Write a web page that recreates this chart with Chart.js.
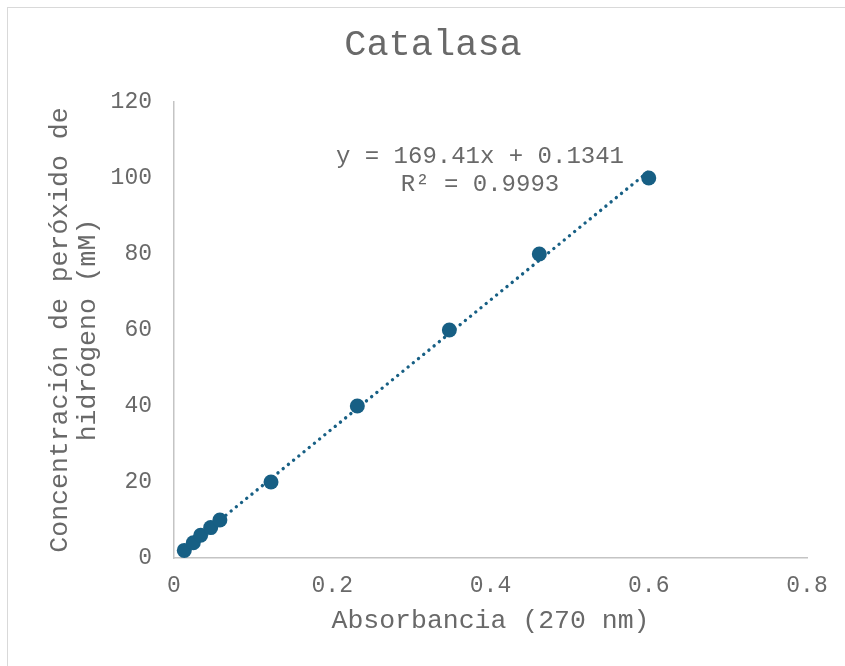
<!DOCTYPE html>
<html>
<head>
<meta charset="utf-8">
<script src="https://cdn.jsdelivr.net/npm/chart.js@4.4.1/dist/chart.umd.min.js"></script>
<style>
    html, body { margin: 0; padding: 0; background: #fff; }
    #wrap { width: 845px; height: 666px; position: relative; }
</style>
</head>
<body>
<div id="wrap"><canvas id="catalasaChart" width="845" height="666"></canvas></div>
<script>
// Curva de calibración: absorbancia a 270 nm vs concentración de H2O2
const absorbancia = [0.013, 0.0244, 0.0337, 0.0464, 0.058, 0.1226, 0.2317, 0.348, 0.4617, 0.600];
const concentracion = [2, 4, 6, 8, 10, 20, 40, 60, 80, 100];
const xTicks = [0, 0.2, 0.4, 0.6, 0.8];
const yTicks = [0, 20, 40, 60, 80, 100, 120];

// Ajuste lineal reportado
const pendiente = 169.41;
const intercepto = 0.1341;
const r2 = 0.9993;

const FONT = "'Liberation Mono', 'Courier New', monospace";
const GRIS = '#696969';
const AZUL = '#175f84';

const puntos = absorbancia.map((x, i) => ({ x: x, y: concentracion[i] }));
const xMin = Math.min(...absorbancia);
const xMax = Math.max(...absorbancia);
const tendencia = [xMin, xMax].map(x => ({ x: x, y: pendiente * x + intercepto }));

// Marco, título, títulos de ejes y ecuación de la recta
const textosPlugin = {
    id: 'textos',
    beforeDraw(chart) {
        const ctx = chart.ctx;
        ctx.save();
        ctx.fillStyle = '#fff';
        ctx.fillRect(0, 0, chart.width, chart.height);
        ctx.strokeStyle = '#d9d9d9';
        ctx.lineWidth = 1;
        ctx.strokeRect(7.5, 7.5, 860, 680);
        ctx.restore();
    },
    afterDraw(chart) {
        const ctx = chart.ctx;
        const area = chart.chartArea;
        const cx = (area.left + area.right) / 2;
        const cy = (area.top + area.bottom) / 2;
        ctx.save();
        ctx.fillStyle = GRIS;
        ctx.textAlign = 'center';
        ctx.textBaseline = 'middle';

        ctx.font = '37px ' + FONT;
        ctx.fillText('Catalasa', 433, 45);

        ctx.font = '26.5px ' + FONT;
        ctx.fillText('Absorbancia (270 nm)', cx, 621);

        ctx.save();
        ctx.translate(60, cy);
        ctx.rotate(-Math.PI / 2);
        ctx.fillText('Concentración de peróxido de', 0, 0);
        ctx.fillText('hidrógeno (mM)', 0, 28);
        ctx.restore();

        ctx.font = '24px ' + FONT;
        ctx.fillText('y = ' + pendiente + 'x + ' + intercepto, 480, 157);
        ctx.fillText('R² = ' + r2, 480, 185);
        ctx.restore();
    }
};

const chart = new Chart(document.getElementById('catalasaChart'), {
    type: 'scatter',
    data: {
        datasets: [
            {
                label: 'Concentración',
                data: puntos,
                backgroundColor: AZUL,
                borderColor: AZUL,
                borderWidth: 0,
                pointRadius: 7.5,
                order: 0
            },
            {
                type: 'line',
                label: 'Lineal',
                data: tendencia,
                borderColor: AZUL,
                borderWidth: 3.4,
                borderDash: [0.01, 6.7],
                borderCapStyle: 'round',
                pointRadius: 0,
                fill: false,
                order: 1
            }
        ]
    },
    options: {
        responsive: false,
        animation: false,
        devicePixelRatio: 1,
        layout: { padding: { left: 74, right: 38, top: 102, bottom: 48 } },
        plugins: {
            legend: { display: false },
            tooltip: { enabled: false },
            title: { display: false }
        },
        scales: {
            x: {
                type: 'linear',
                min: 0,
                max: 0.8,
                afterBuildTicks: scale => { scale.ticks = xTicks.map(v => ({ value: v })); },
                afterFit: scale => { scale.height = 60; },
                grid: { display: false, drawTicks: false },
                border: { display: true, color: '#c4c4c4', width: 1.5 },
                ticks: {
                    padding: 14,
                    color: GRIS,
                    font: { family: FONT, size: 23 },
                    maxRotation: 0,
                    callback: v => String(v)
                }
            },
            y: {
                type: 'linear',
                min: 0,
                max: 120,
                afterBuildTicks: scale => { scale.ticks = yTicks.map(v => ({ value: v })); },
                afterFit: scale => { scale.width = 100; },
                grid: { display: false, drawTicks: false },
                border: { display: true, color: '#c4c4c4', width: 1.5 },
                ticks: {
                    padding: 22,
                    color: GRIS,
                    font: { family: FONT, size: 23 }
                }
            }
        }
    },
    plugins: [textosPlugin]
});
</script>
</body>
</html>
